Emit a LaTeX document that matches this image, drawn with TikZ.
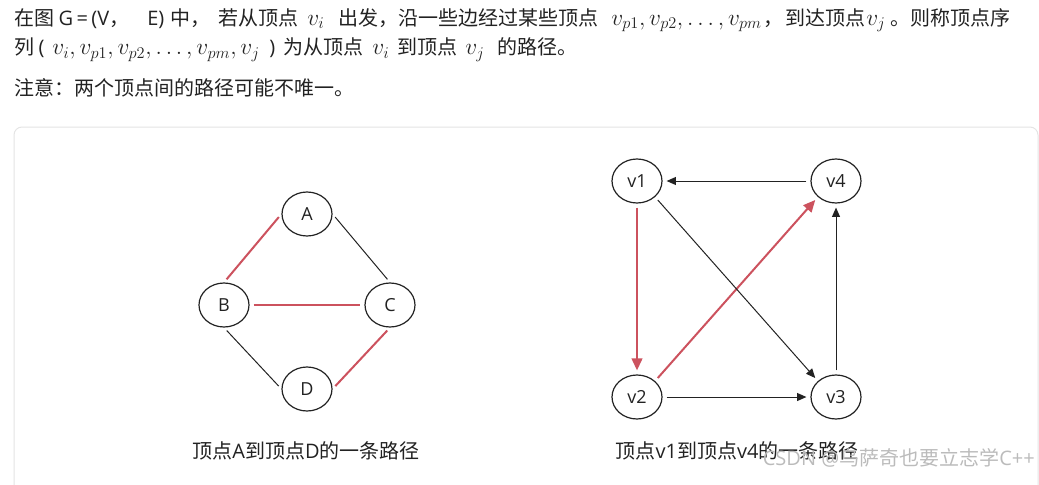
\RequirePackage{fix-cm}
\documentclass[tikz,border=0pt]{standalone}
\usepackage[no-math]{fontspec}
\setmainfont{Noto Sans CJK SC}
\newfontfamily\latf{Open Sans}
\usepackage{tikz}
\usetikzlibrary{arrows.meta,positioning,shapes.geometric}
\definecolor{txt}{HTML}{222222}
\definecolor{pathred}{HTML}{CC525E}
\definecolor{framegray}{HTML}{E4E4E4}
\definecolor{wmgray}{HTML}{BBBBBB}

\begin{document}
\begin{tikzpicture}[x=0.75pt, y=-0.75pt, every node/.style={font=\fontsize{15}{18}\selectfont, text=txt, inner sep=0pt}]
\tikzset{vtx/.style={draw=txt, ellipse, line width=0.9pt, minimum width=37.5pt, minimum height=33pt, inner sep=0pt, font=\latf\fontsize{13.5}{16}\selectfont}}
\tikzset{line/.style={draw=txt, line width=0.75pt, shorten <=3pt, shorten >=3pt}}
\tikzset{redline/.style={draw=pathred, line width=1.5pt, shorten <=3pt, shorten >=3pt}}
\tikzset{arr/.style={line, -{Triangle[length=7pt,width=6pt]}}}
\tikzset{redarr/.style={redline, -{Triangle[length=9pt,width=8pt]}}}
\tikzset{txtl/.style={anchor=base west}}
\tikzset{mth/.style={anchor=base west, font=\fontsize{17.5}{20}\selectfont}}
\useasboundingbox (0,0) rectangle (1039,485);
\clip (0,0) rectangle (1039,485);
\draw[draw=framegray, line width=0.75pt, rounded corners=6pt] (14,127) rectangle (1038,500);
\node[txtl] (l1a) at (14,25.5) {在图 {\latf G\,=\,(V}，};
\node[txtl] (l1b) at (147,25.5) {{\latf E)}\,\,中，};
\node[txtl] (l1c) at (218,25.5) {若从顶点};
\node[mth] (l1d) at (307,25.5) {$v_i$};
\node[txtl] (l1e) at (338,25.5) {出发，沿一些边经过某些顶点};
\node[mth] (l1f) at (611,25.5) {$v_{p1}, v_{p2}, \ldots, v_{pm}$};
\node[txtl] (l1g) at (763,25.5) {，};
\node[txtl] (l1h) at (785,25.5) {到达顶点};
\node[mth] (l1i) at (866,25.5) {$v_j$};
\node[txtl] (l1j) at (890,25.5) {。则称顶点序};
\node[txtl] (l2a) at (14,55) {列 {\latf (}};
\node[mth] (l2b) at (52,55) {$v_i, v_{p1}, v_{p2}, \ldots, v_{pm}, v_j$};
\node[txtl] (l2c) at (269,55) {\latf )};
\node[txtl] (l2d) at (283,55) {为从顶点};
\node[mth] (l2e) at (372,55) {$v_i$};
\node[txtl] (l2f) at (397,55) {到顶点};
\node[mth] (l2g) at (465,55) {$v_j$};
\node[txtl] (l2h) at (497,55) {的路径。};
\node[txtl] (l3) at (14,95.5) {注意：两个顶点间的路径可能不唯一。};
\node[vtx] (A) at (307,214) {A};
\node[vtx] (B) at (224,305) {B};
\node[vtx] (C) at (390,305) {C};
\node[vtx] (D) at (307,389) {D};
\draw[redline] (B.north) -- (A.west);
\draw[redline] (B.east) -- (C.west);
\draw[redline] (C.south) -- (D.east);
\draw[line] (A.east) -- (C.north);
\draw[line] (B.south) -- (D.west);
\node[anchor=base] (capl) at (306,458) {顶点{\latf A}到顶点{\latf D}的一条路径};
\node[vtx] (v1) at (637,181) {v1};
\node[vtx] (v4) at (836,181) {v4};
\node[vtx] (v2) at (637,397) {v2};
\node[vtx] (v3) at (836,397) {v3};
\draw[arr] (v4) -- (v1);
\draw[redarr] (v1) -- (v2);
\draw[redarr] (v2.north east) -- (v4.south west);
\draw[arr] (v1.south east) -- (v3.north west);
\draw[arr] (v2) -- (v3);
\draw[arr] (v3) -- (v4);
\node[anchor=base] (capr) at (737,458) {顶点{\latf v1}到顶点{\latf v4}的一条路径};
\node[anchor=base east, text=wmgray] (wm) at (1035,465) {{\latf CSDN @}乌萨奇也要立志学{\latf C++}};
\end{tikzpicture}
\end{document}
